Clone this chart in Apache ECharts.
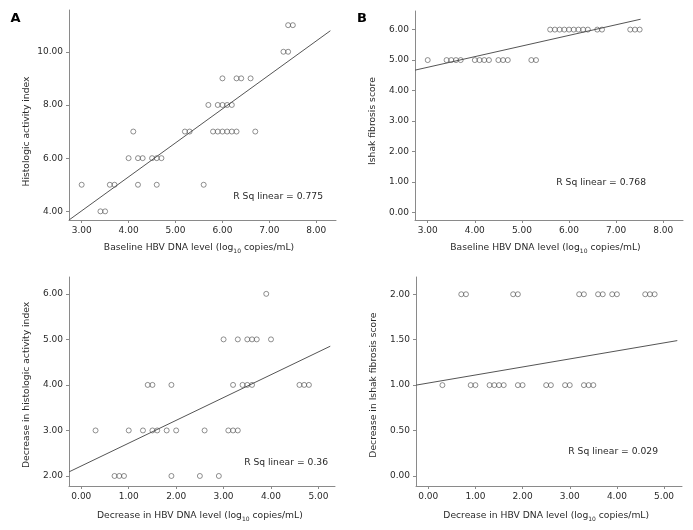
<!DOCTYPE html>
<html><head><meta charset="utf-8">
<script src="https://cdn.jsdelivr.net/npm/echarts@6/dist/echarts.min.js"></script>
<style>html,body{margin:0;padding:0;background:#fff}#c{width:693px;height:530px}</style>
</head><body><div id="c"></div>
<script>
// Panel A: baseline HBV DNA vs histologic activity index
const aX = [3.0,3.4,3.5,3.6,3.7,4.2,4.6,5.6,4.0,4.2,4.3,4.5,4.6,4.7,4.1,5.2,5.3,5.8,5.9,6.0,6.1,6.2,6.3,6.7,5.7,5.9,6.0,6.1,6.2,6.0,6.3,6.4,6.6,7.3,7.4,7.4,7.5];
const aY = [5,4,4,5,5,5,5,5,6,6,6,6,6,6,7,7,7,7,7,7,7,7,7,7,8,8,8,8,8,9,9,9,9,10,10,11,11];
const aFitX = [2.73, 8.30];
const aFitY = [3.675, 10.79];
// Panel B: baseline HBV DNA vs Ishak fibrosis score
const bX = [3.0,3.4,3.5,3.6,3.7,4.0,4.1,4.2,4.3,4.5,4.6,4.7,5.2,5.3,5.6,5.7,5.8,5.9,6.0,6.1,6.2,6.3,6.4,6.6,6.7,7.3,7.4,7.5];
const bY = [5,5,5,5,5,5,5,5,5,5,5,5,5,5,6,6,6,6,6,6,6,6,6,6,6,6,6,6];
const bFitX = [2.73, 7.52];
const bFitY = [4.67, 6.34];
// Panel C: decrease in HBV DNA vs decrease in histologic activity index
const cX = [0.7,0.8,0.9,1.9,2.5,2.9, 0.3,1.0,1.3,1.5,1.6,1.8,2.0,2.6,3.1,3.2,3.3, 1.4,1.5,1.9,3.2,3.4,3.5,3.6,4.6,4.7,4.8, 3.0,3.3,3.5,3.6,3.7,4.0, 3.9];
const cY = [2,2,2,2,2,2, 3,3,3,3,3,3,3,3,3,3,3, 4,4,4,4,4,4,4,4,4,4, 5,5,5,5,5,5, 6];
const cFitX = [-0.26, 5.25];
const cFitY = [2.09, 4.85];
// Panel D: decrease in HBV DNA vs decrease in Ishak fibrosis score
const dX = [0.7,0.8,1.8,1.9,3.2,3.3,3.6,3.7,3.9,4.0,4.6,4.7,4.8, 0.3,0.9,1.0,1.3,1.4,1.5,1.6,1.9,2.0,2.5,2.6,2.9,3.0,3.3,3.4,3.5];
const dY = [2,2,2,2,2,2,2,2,2,2,2,2,2, 1,1,1,1,1,1,1,1,1,1,1,1,1,1,1,1];
const dFitX = [-0.26, 5.28];
const dFitY = [1.0, 1.49];

const ticksXTop = [3,4,5,6,7,8];
const ticksYA = [4,6,8,10];
const ticksYB = [0,1,2,3,4,5,6];
const ticksXBot = [0,1,2,3,4,5];
const ticksYC = [2,3,4,5,6];
const ticksYD = [0,0.5,1,1.5,2];

const rsq = ['R Sq linear = 0.775','R Sq linear = 0.768','R Sq linear = 0.36','R Sq linear = 0.029'];
const xNames = ['Baseline HBV DNA level (log', 'Baseline HBV DNA level (log', 'Decrease in HBV DNA level (log', 'Decrease in HBV DNA level (log'];
const yNames = ['Histologic activity index','Ishak fibrosis score','Decrease in histologic activity index','Decrease in Ishak fibrosis score'];

const FONT = 'DejaVu Sans';
const AX = '#8a8a8a', TXT = '#2a2a2a', MK = '#505050';

function pairs(xs, ys){ return xs.map((x,k)=>[x, ys[k]]); }
function axis(i, min, max, ticks){
  return {type:'value', gridIndex:i, min:min, max:max, scale:true,
    axisLine:{show:true, onZero:false, lineStyle:{color:AX, width:1}},
    axisTick:{show:true, customValues:ticks, length:3, lineStyle:{color:AX}},
    axisLabel:{show:true, customValues:ticks, formatter:v=>v.toFixed(2), fontFamily:FONT, fontSize:9, color:TXT, margin:6},
    splitLine:{show:false}};
}
function scat(xs, ys, i){
  return {type:'scatter', xAxisIndex:i, yAxisIndex:i, data:pairs(xs,ys), symbol:'circle', symbolSize:5,
    itemStyle:{color:'rgba(0,0,0,0)', borderColor:MK, borderWidth:0.8}, silent:true, z:3};
}
function fit(xs, ys, i){
  return {type:'line', xAxisIndex:i, yAxisIndex:i, data:pairs(xs,ys), symbol:'none', showSymbol:false,
    lineStyle:{color:'#555', width:1}, silent:true, clip:true, z:2};
}

const grids = [
  {left:69, top:10, width:267, height:210},
  {left:415, top:11, width:268, height:209},
  {left:69, top:277, width:266, height:209},
  {left:416, top:277, width:266, height:209}
];

const chart = echarts.init(document.getElementById('c'), null, {renderer:'canvas'});
chart.setOption({
  animation:false,
  backgroundColor:'#fff',
  grid: grids,
  xAxis:[axis(0,2.73,8.42,ticksXTop), axis(1,2.73,8.42,ticksXTop), axis(2,-0.26,5.35,ticksXBot), axis(3,-0.26,5.38,ticksXBot)],
  yAxis:[axis(0,3.675,11.57,ticksYA), axis(1,-0.245,6.61,ticksYB), axis(2,1.78,6.37,ticksYC), axis(3,-0.11,2.19,ticksYD)],
  series:[scat(aX,aY,0), fit(aFitX,aFitY,0), scat(bX,bY,1), fit(bFitX,bFitY,1),
          scat(cX,cY,2), fit(cFitX,cFitY,2), scat(dX,dY,3), fit(dFitX,dFitY,3)]
});

// Axis titles centred on the tick range (as in the source figure)
const tickRangesX = [ticksXTop, ticksXTop, ticksXBot, ticksXBot];
const tickRangesY = [ticksYA, ticksYB, ticksYC, ticksYD];
const g = [];
for (let i=0;i<4;i++){
  const tx = tickRangesX[i], ty = tickRangesY[i];
  const cx = chart.convertToPixel({xAxisIndex:i}, (tx[0]+tx[tx.length-1])/2);
  const cy = chart.convertToPixel({yAxisIndex:i}, (ty[0]+ty[ty.length-1])/2);
  const gr = grids[i];
  const bottom = gr.top + gr.height;
  g.push({type:'text', x:cx, y:bottom + (i<2?28:30), silent:true,
    style:{text:'{n|'+xNames[i]+'}{s|10}{n| copies/mL)}', align:'center', verticalAlign:'middle',
      rich:{n:{fontFamily:FONT, fontSize:9.2, fill:TXT, lineHeight:12}, s:{fontFamily:FONT, fontSize:6, fill:TXT, verticalAlign:'bottom', lineHeight:12}}}});
  g.push({type:'text', x:gr.left - 42.5, y:cy, rotation:Math.PI/2, silent:true,
    style:{text:yNames[i], align:'center', verticalAlign:'middle', font:'9.2px '+FONT, fill:TXT}});
}
// R Sq annotations
const rsqPos = [[323,197],[646,183],[328,463],[658,452]];
for (let i=0;i<4;i++){
  g.push({type:'text', x:rsqPos[i][0], y:rsqPos[i][1], silent:true,
    style:{text:rsq[i], align:'right', verticalAlign:'middle', font:'9.2px '+FONT, fill:TXT}});
}
// Panel letters
g.push({type:'text', x:15.5, y:19, silent:true, style:{text:'A', align:'center', verticalAlign:'middle', font:'bold 13px '+FONT, fill:'#000'}});
g.push({type:'text', x:362, y:19, silent:true, style:{text:'B', align:'center', verticalAlign:'middle', font:'bold 13px '+FONT, fill:'#000'}});
chart.setOption({graphic:g});
</script>
</body></html>
